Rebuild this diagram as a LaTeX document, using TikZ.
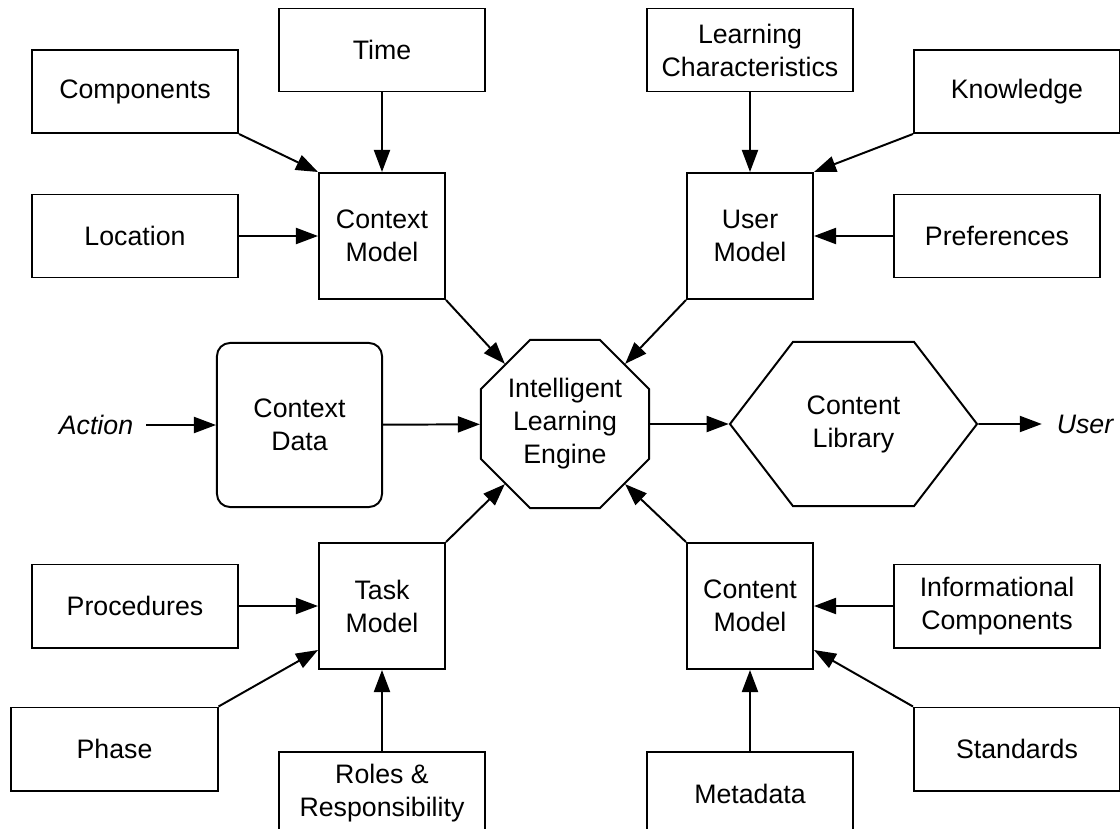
\documentclass[tikz,border=0pt]{standalone}
\usepackage{fontspec}
\setmainfont{Liberation Sans}
\usetikzlibrary{arrows.meta,shapes.geometric,shapes.symbols}

\begin{document}
\begin{tikzpicture}[x=0.025cm,y=-0.025cm,line width=1.4pt,
    font=\fontsize{19}{23.5}\selectfont,
    every node/.style={align=center,inner sep=0pt},
    box/.style={draw,minimum width=5.15cm,minimum height=2.075cm},
    model/.style={draw,minimum width=3.15cm,minimum height=3.15cm},
    arr/.style={-{Triangle[length=0.55cm,width=0.4cm]}}]
  \useasboundingbox (0,0) rectangle (1120,829);

  \node[box] (time) at (382,50) {Time};
  \node[box] (comp) at (135,91.5) {Components};
  \node[box] (loc) at (135,236) {Location};
  \node[model] (ctxmodel) at (382,236) {Context\\Model};

  \node[box] (lchar) at (750,50) {Learning\\Characteristics};
  \node[box] (know) at (1017,91.5) {Knowledge};
  \node[box] (pref) at (997,236) {Preferences};
  \node[model] (usermodel) at (750,236) {User\\Model};

  \node[inner xsep=0.3cm] (action) at (96,425) {\itshape Action};
  \node[draw,rounded corners=0.325cm,minimum width=4.125cm,minimum height=4.1cm] (ctxdata) at (299.5,425) {Context\\Data};
  \node[draw,regular polygon,regular polygon sides=8,minimum size=4.55cm] (engine) at (565,424) {Intelligent\\Learning\\Engine};
  \node[draw,signal,signal to=west and east,signal from=nowhere,signal pointer angle=105,
        minimum width=6.175cm,minimum height=4.1cm] (lib) at (853.5,424) {Content\\Library};
  \node[inner xsep=0.35cm] (user) at (1085,424) {\itshape User};

  \node[model] (taskmodel) at (382,606) {Task\\Model};
  \node[box] (proc) at (135,606) {Procedures};
  \node[box] (phase) at (114.5,749) {Phase};
  \node[box] (roles) at (382,793.5) {Roles \&\\Responsibility};

  \node[model] (contmodel) at (750,606) {Content\\Model};
  \node[box] (info) at (997,606) {Informational\\Components};
  \node[box] (stand) at (1017,749) {Standards};
  \node[box] (meta) at (750,793.5) {Metadata};

  \draw[arr] (comp.south east) -- (ctxmodel.north west);
  \draw[arr] (time) -- (ctxmodel);
  \draw[arr] (loc) -- (ctxmodel);
  \draw[arr] (ctxmodel.south east) -- (engine.135);

  \draw[arr] (know.south west) -- (usermodel.north east);
  \draw[arr] (lchar) -- (usermodel);
  \draw[arr] (pref) -- (usermodel);
  \draw[arr] (usermodel.south west) -- (engine.45);

  \draw[arr] (action) -- (ctxdata);
  \draw[arr] (ctxdata) -- (engine);
  \draw[arr] (engine) -- (lib);
  \draw[arr] (lib) -- (user);

  \draw[arr] (proc) -- (taskmodel);
  \draw[arr] (phase.north east) -- ([yshift=0.5cm]taskmodel.south west);
  \draw[arr] (roles) -- (taskmodel);
  \draw[arr] (taskmodel.north east) -- (engine.225);

  \draw[arr] (info) -- (contmodel);
  \draw[arr] (stand.north west) -- ([yshift=0.5cm]contmodel.south east);
  \draw[arr] (meta) -- (contmodel);
  \draw[arr] (contmodel.north west) -- (engine.315);
\end{tikzpicture}
\end{document}
